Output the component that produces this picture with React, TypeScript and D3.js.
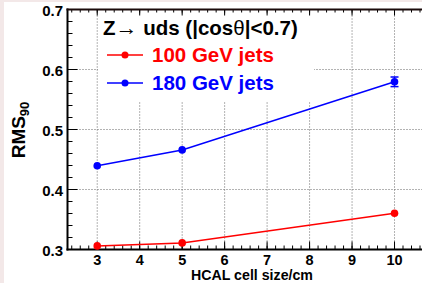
import * as d3 from "d3";

const cellSizes = [3, 5, 10];
const rms100 = [0.306, 0.311, 0.3605];
const err100 = [0.002, 0.002, 0.002];
const rms180 = [0.4395, 0.466, 0.5795];
const err180 = [0.003, 0.003, 0.008];
const xTicks = [3, 4, 5, 6, 7, 8, 9, 10];
const yTicks = [0.3, 0.4, 0.5, 0.6, 0.7];

const W = 422;
const H = 283;
const FONT = "'Liberation Sans', Arial, sans-serif";

export default function App() {
  const x = d3.scaleLinear().domain([2.3, 11]).range([67.5, 67.5 + 8.7 * 42.47]);
  const y = d3.scaleLinear().domain([0.3, 0.7]).range([249.5, 9.5]);
  const x0 = x.range()[0];
  const y0 = y.range()[0];
  const yTop = y.range()[1];
  const xRight = W + 20;

  const xMinor = d3.range(2.4, 10.9, 0.2).map((v) => +v.toFixed(2));
  const yMinor = d3.range(0.3, 0.7001, 0.02).map((v) => +v.toFixed(3));

  const line = d3
    .line<number>()
    .x((_, i) => x(cellSizes[i]))
    .y((d) => y(d));

  const series = [
    { vals: rms100, errs: err100, color: "#ff0000" },
    { vals: rms180, errs: err180, color: "#0000ff" },
  ];

  const grid = "#666";
  const legend = { x: 98, y: 14, w: 216, h: 87 };

  return (
    <svg
      width={W}
      height={H}
      style={{ position: "absolute", left: 0, top: 0 }}
      fontFamily={FONT}
    >
      <rect width={W} height={H} fill="#f3e8e8" />
      <rect x={4} y={2} width={W} height={H} fill="#fff" />

      {/* grid */}
      {xTicks.map((t) => (
        <line
          key={"gx" + t}
          x1={x(t)}
          x2={x(t)}
          y1={yTop}
          y2={y0}
          stroke={grid}
          strokeWidth={1}
          strokeDasharray="1,2"
        />
      ))}
      {yTicks.slice(1, 4).map((t) => (
        <line
          key={"gy" + t}
          x1={x0}
          x2={xRight}
          y1={y(t)}
          y2={y(t)}
          stroke={grid}
          strokeWidth={1}
          strokeDasharray="1,2"
        />
      ))}

      {/* legend box */}
      <rect x={legend.x} y={legend.y} width={legend.w} height={legend.h} fill="#fff" />

      {/* axes ticks */}
      {yMinor.map((t) => (
        <line key={"ym" + t} x1={x0} x2={x0 + 5} y1={y(t)} y2={y(t)} stroke="#000" strokeWidth={1} />
      ))}
      {yTicks.map((t) => (
        <g key={"yt" + t}>
          <line x1={x0} x2={x0 + 10} y1={y(t)} y2={y(t)} stroke="#000" strokeWidth={1} />
          <text
            x={63}
            y={y(t) + 6}
            textAnchor="end"
            fontSize={15}
            fontWeight="bold"
          >
            {t.toFixed(1)}
          </text>
        </g>
      ))}
      {xMinor.map((t) => (
        <g key={"xm" + t}>
          <line x1={x(t)} x2={x(t)} y1={y0} y2={y0 - 4} stroke="#000" strokeWidth={1} />
          <line x1={x(t)} x2={x(t)} y1={yTop} y2={yTop + 3} stroke="#000" strokeWidth={1} />
        </g>
      ))}
      {xTicks.map((t) => (
        <g key={"xt" + t}>
          <line x1={x(t)} x2={x(t)} y1={y0} y2={y0 - 8} stroke="#000" strokeWidth={1} />
          <line x1={x(t)} x2={x(t)} y1={yTop} y2={yTop + 6} stroke="#000" strokeWidth={1} />
          <text x={x(t)} y={264.5} textAnchor="middle" fontSize={14.5} fontWeight="bold">
            {t}
          </text>
        </g>
      ))}

      {/* frame */}
      <line x1={x0} x2={x0} y1={yTop - 1} y2={y0 + 1} stroke="#000" strokeWidth={2} />
      <line x1={x0 - 1} x2={xRight} y1={y0} y2={y0} stroke="#000" strokeWidth={2} />
      <line x1={x0 - 1} x2={xRight} y1={yTop} y2={yTop} stroke="#1a0a0a" strokeWidth={2} />

      {/* data */}
      {series.map((s, si) => (
        <g key={"s" + si}>
          <path d={line(s.vals) ?? ""} fill="none" stroke={s.color} strokeWidth={1.5} />
          {s.vals.map((v, i) => (
            <g key={i}>
              <line
                x1={x(cellSizes[i])}
                x2={x(cellSizes[i])}
                y1={y(v - s.errs[i])}
                y2={y(v + s.errs[i])}
                stroke={s.color}
                strokeWidth={1.5}
              />
              {s.errs[i] > 0.005 && (
                <>
                  <line x1={x(cellSizes[i]) - 4} x2={x(cellSizes[i]) + 4} y1={y(v - s.errs[i])} y2={y(v - s.errs[i])} stroke={s.color} strokeWidth={1.5} />
                  <line x1={x(cellSizes[i]) - 4} x2={x(cellSizes[i]) + 4} y1={y(v + s.errs[i])} y2={y(v + s.errs[i])} stroke={s.color} strokeWidth={1.5} />
                </>
              )}
              <circle cx={x(cellSizes[i])} cy={y(v)} r={3.8} fill={s.color} />
            </g>
          ))}
        </g>
      ))}

      {/* legend */}
      <text x={103} y={35} fontSize={20.5} fontWeight="bold">
        Z<tspan fontWeight="normal" fontSize={22}>→</tspan> uds (|cos<tspan fontWeight="normal">θ</tspan>|&lt;0.7)
      </text>
      {[
        { label: "100 GeV jets", color: "#ff0000", yy: 55 },
        { label: "180 GeV jets", color: "#0000ff", yy: 83 },
      ].map((e) => (
        <g key={e.label}>
          <line x1={107} x2={143} y1={e.yy} y2={e.yy} stroke={e.color} strokeWidth={1.5} />
          <circle cx={125} cy={e.yy} r={3.5} fill={e.color} />
          <text x={152} y={e.yy + 7} fontSize={20.5} fontWeight="bold" fill={e.color}>
            {e.label}
          </text>
        </g>
      ))}

      {/* axis titles */}
      <text x={313} y={280} textAnchor="end" fontSize={14.2} fontWeight="bold">
        HCAL cell size/cm
      </text>
      <text
        transform="translate(25,130) rotate(-90)"
        textAnchor="middle"
        fontSize={19}
        fontWeight="bold"
      >
        RMS<tspan fontSize={13} dy={4}>90</tspan>
      </text>
    </svg>
  );
}
